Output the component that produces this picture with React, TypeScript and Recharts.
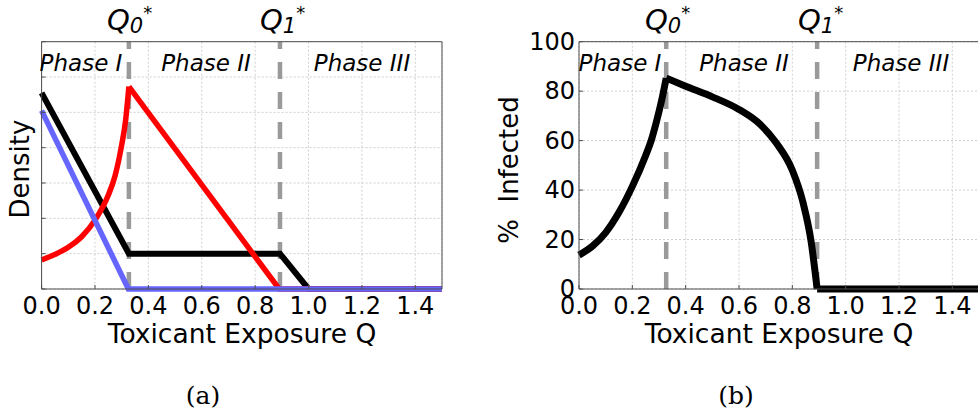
import React from 'react';
import { LineChart, Line, XAxis, YAxis, CartesianGrid, ReferenceLine } from 'recharts';

// thresholds on the exposure axis
const Q0 = 0.327;
const Q1 = 0.893;

// panel (a): densities
const blackQ = [0, Q0, Q1, 1.0, 1.5];
const blackDensity = [5.55, 1.0, 1.0, 0, 0];
const blueQ = [0, 0.325, 1.5];
const blueDensity = [5.05, 0, 0];
const redRiseQ = [0, 0.05, 0.1, 0.15, 0.2, 0.25, 0.275, 0.3, 0.315, Q0];
const redRiseDensity = [0.82, 0.98, 1.18, 1.48, 1.95, 2.66, 3.2, 4.08, 4.79, 5.73];
const redFallQ = [Q0, 0.89, 1.5];
const redFallDensity = [5.73, 0, 0];

// panel (b): % infected
const riseQ = [0, 0.05, 0.1, 0.15, 0.2, 0.25, 0.27, 0.29, 0.31, Q0];
const riseInfected = [13.7, 17.3, 22.8, 31, 41.5, 54, 59.8, 67.5, 76.3, 85.3];
const fallQ = [Q0, 0.4, 0.5, 0.6, 0.68, 0.74, 0.8, 0.84, 0.87, Q1];
const fallInfected = [85.3, 82, 77.7, 72.6, 66.5, 59, 48, 35, 19.5, 0];
const flatQ = [Q1, 1.5];
const flatInfected = [0, 0];

// ticks
const xMajor = [0, 0.2, 0.4, 0.6, 0.8, 1.0, 1.2, 1.4];
const xMajorLabels = ['0.0', '0.2', '0.4', '0.6', '0.8', '1.0', '1.2', '1.4'];
const xMinor = [0.1, 0.3, 0.5, 0.7, 0.9, 1.1, 1.3, 1.5];
const densityTicks = [0, 1, 2, 3, 4, 5, 6, 7];
const infectedTicks = [0, 20, 40, 60, 80, 100];
const infectedLabels = ['0', '20', '40', '60', '80', '100'];
const infectedMinor = [5, 10, 15, 25, 30, 35, 45, 50, 55, 65, 70, 75, 85, 90, 95];

const zip = (qs: number[], vs: number[]) => qs.map((q, i) => ({ q, v: vs[i] }));

const FRAME = '#4d4d4d';
const GRID = '#cfcfcf';
const DASH = '#9a9a9a';
const FONT = '"DejaVu Sans", sans-serif';

// axes are 1px thick so that recharts draws them; ticks point inwards
const bottomTick = (len: number, labels?: string[]) => (p: any) => (
  <g>
    <line x1={p.x} x2={p.x} y1={p.y} y2={p.y - len} stroke={FRAME} />
    {labels && (
      <text x={p.x} y={p.y + 25} textAnchor="middle" fontSize={24} fontFamily={FONT} fill="#000">
        {labels[p.index]}
      </text>
    )}
  </g>
);
const topTick = (len: number) => (p: any) => (
  <line x1={p.x} x2={p.x} y1={p.y} y2={p.y + len} stroke={FRAME} />
);
const leftTick = (len: number, labels?: string[]) => (p: any) => (
  <g>
    <line x1={p.x} x2={p.x + len} y1={p.y} y2={p.y} stroke={FRAME} />
    {labels && (
      <text x={p.x - 4} y={p.y + 8} textAnchor="end" fontSize={24} fontFamily={FONT} fill="#000">
        {labels[p.index]}
      </text>
    )}
  </g>
);
const rightTick = (len: number) => (p: any) => (
  <line x1={p.x} x2={p.x - len} y1={p.y} y2={p.y} stroke={FRAME} />
);

const axisCommon = { tickSize: 0, tickMargin: 0, tickLine: false, interval: 0 as const };

const QLabel = ({ x, sub }: { x: number; sub: string }) => (
  <text x={x} y={30} fontFamily={FONT} fontStyle="italic" fontSize={29} fill="#000">
    Q
    <tspan fontSize={21} dy={3}>{sub}</tspan>
    <tspan fontSize={18} dy={-14} fontStyle="normal">*</tspan>
  </text>
);

const phaseStyle = { fontFamily: FONT, fontStyle: 'italic', fontSize: 23, fill: '#000' } as const;

export default function App() {
  return (
    <div style={{ position: 'absolute', left: 0, top: 0, width: 978, height: 416, overflow: 'hidden', background: '#fff' }}>
      {/* panel (a) */}
      <div style={{ position: 'absolute', left: 0, top: 0 }}>
        <LineChart width={470} height={330} margin={{ top: 40.7, right: 27, bottom: 39, left: 40.6 }}>
          <CartesianGrid stroke={GRID} strokeDasharray="2 2" />
          <XAxis type="number" dataKey="q" domain={[0, 1.5]} ticks={xMajor} height={1} {...axisCommon}
            axisLine={{ stroke: FRAME }} tick={bottomTick(4, xMajorLabels)} />
          <XAxis xAxisId="bm" type="number" domain={[0, 1.5]} ticks={xMinor} height={1} {...axisCommon}
            axisLine={false} tick={bottomTick(3.5)} />
          <XAxis xAxisId="top" orientation="top" type="number" domain={[0, 1.5]} ticks={[...xMajor, ...xMinor]}
            height={1} {...axisCommon} axisLine={{ stroke: FRAME }} tick={topTick(3)} />
          <YAxis type="number" domain={[0, 7]} ticks={densityTicks} width={1} {...axisCommon}
            axisLine={{ stroke: FRAME }} tick={leftTick(4)} />
          <YAxis yAxisId="right" orientation="right" type="number" domain={[0, 7]} ticks={densityTicks}
            width={1} {...axisCommon} axisLine={{ stroke: FRAME }} tick={rightTick(4)} />
          <ReferenceLine x={Q0} stroke={DASH} strokeWidth={4.5} strokeDasharray="17 13" />
          <ReferenceLine x={Q1} stroke={DASH} strokeWidth={4.5} strokeDasharray="17 13" />
          <Line data={zip(blackQ, blackDensity)} dataKey="v" type="linear" stroke="#000" strokeWidth={6}
            dot={false} activeDot={false} isAnimationActive={false} />
          <Line data={zip(redRiseQ, redRiseDensity)} dataKey="v" type="monotone" stroke="#ff0000" strokeWidth={5.5}
            dot={false} activeDot={false} isAnimationActive={false} />
          <Line data={zip(redFallQ, redFallDensity)} dataKey="v" type="linear" stroke="#ff0000" strokeWidth={5.5}
            dot={false} activeDot={false} isAnimationActive={false} />
          <Line data={zip(blueQ, blueDensity)} dataKey="v" type="linear" stroke="#6666ff" strokeWidth={5.5}
            dot={false} activeDot={false} isAnimationActive={false} />
        </LineChart>
      </div>

      {/* panel (b) */}
      <div style={{ position: 'absolute', left: 490, top: 0 }}>
        <LineChart width={500} height={330} margin={{ top: 40.7, right: 11, bottom: 39, left: 87 }}>
          <CartesianGrid stroke={GRID} strokeDasharray="2 2" />
          <XAxis type="number" dataKey="q" domain={[0, 1.5]} ticks={xMajor} height={1} {...axisCommon}
            axisLine={{ stroke: FRAME }} tick={bottomTick(4, xMajorLabels)} />
          <XAxis xAxisId="bm" type="number" domain={[0, 1.5]} ticks={xMinor} height={1} {...axisCommon}
            axisLine={false} tick={bottomTick(3.5)} />
          <XAxis xAxisId="top" orientation="top" type="number" domain={[0, 1.5]} ticks={[...xMajor, ...xMinor]}
            height={1} {...axisCommon} axisLine={{ stroke: FRAME }} tick={topTick(3)} />
          <YAxis type="number" domain={[0, 100]} ticks={infectedTicks} width={1} {...axisCommon}
            axisLine={{ stroke: FRAME }} tick={leftTick(4, infectedLabels)} />
          <YAxis yAxisId="minor" type="number" domain={[0, 100]} ticks={infectedMinor} width={1} {...axisCommon}
            axisLine={false} tick={leftTick(3.5)} />
          <ReferenceLine x={Q0} stroke={DASH} strokeWidth={4.5} strokeDasharray="17 13" />
          <ReferenceLine x={Q1} stroke={DASH} strokeWidth={4.5} strokeDasharray="17 13" />
          <Line data={zip(riseQ, riseInfected)} dataKey="v" type="monotone" stroke="#000" strokeWidth={7}
            dot={false} activeDot={false} isAnimationActive={false} />
          <Line data={zip(fallQ, fallInfected)} dataKey="v" type="monotone" stroke="#000" strokeWidth={7}
            dot={false} activeDot={false} isAnimationActive={false} />
          <Line data={zip(flatQ, flatInfected)} dataKey="v" type="linear" stroke="#000" strokeWidth={7}
            dot={false} activeDot={false} isAnimationActive={false} />
        </LineChart>
      </div>

      {/* annotations */}
      <svg width={978} height={416} style={{ position: 'absolute', left: 0, top: 0, pointerEvents: 'none' }}>
        <QLabel x={107} sub="0" />
        <QLabel x={260} sub="1" />
        <QLabel x={645} sub="0" />
        <QLabel x={798} sub="1" />

        <text x={81} y={71} textAnchor="middle" {...phaseStyle}>Phase I</text>
        <text x={206} y={71} textAnchor="middle" {...phaseStyle}>Phase II</text>
        <text x={362} y={71} textAnchor="middle" {...phaseStyle}>Phase III</text>
        <text x={620} y={71} textAnchor="middle" {...phaseStyle}>Phase I</text>
        <text x={744} y={71} textAnchor="middle" {...phaseStyle}>Phase II</text>
        <text x={901} y={71} textAnchor="middle" {...phaseStyle}>Phase III</text>

        <text x={20} y={169} transform="rotate(-90 20 169)" textAnchor="middle" dominantBaseline="central"
          fontFamily={FONT} fontSize={26} fill="#000">Density</text>
        <text x={509} y={170} transform="rotate(-90 509 170)" textAnchor="middle" dominantBaseline="central"
          fontFamily={FONT} fontSize={26} fill="#000">{'%\u00a0 Infected'}</text>

        <text x={242} y={343} textAnchor="middle" fontFamily={FONT} fontSize={26.5} fill="#000">Toxicant Exposure Q</text>
        <text x={779} y={343} textAnchor="middle" fontFamily={FONT} fontSize={26.5} fill="#000">Toxicant Exposure Q</text>

        <text x={203} y={404} textAnchor="middle" fontFamily='"DejaVu Serif", serif' fontSize={25} fill="#000">(a)</text>
        <text x={736} y={404} textAnchor="middle" fontFamily='"DejaVu Serif", serif' fontSize={25} fill="#000">(b)</text>
      </svg>
    </div>
  );
}
